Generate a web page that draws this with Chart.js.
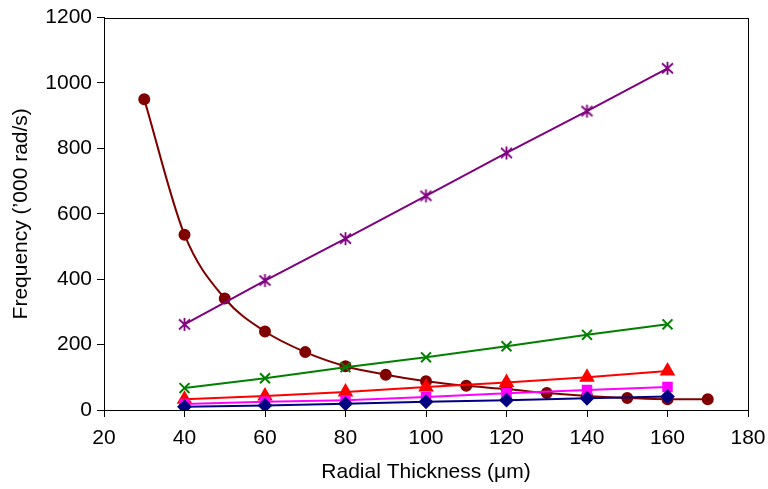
<!DOCTYPE html>
<html>
<head>
<meta charset="utf-8">
<script src="https://cdn.jsdelivr.net/npm/chart.js@4/dist/chart.umd.min.js"></script>
<style>
  html, body { margin: 0; padding: 0; background: #fff; }
  #wrap { width: 768px; height: 489px; position: relative; }
</style>
</head>
<body>
<div id="wrap"><canvas id="chart"></canvas></div>
<script>
// radial thickness (um) for the five straight series
const thickness = [40, 60, 80, 100, 120, 140, 160];
// radial thickness for the curved series
const thicknessCurve = [30, 40, 50, 60, 70, 80, 90, 100, 110, 120, 130, 140, 150, 160, 170];

const diamondSeries = [10, 14, 19, 25, 30, 36, 41];
const squareSeries = [18, 25, 30, 40, 51, 61, 70];
const triangleSeries = [33, 43, 55, 70, 84, 100, 119];
const crossSeries = [67, 97, 131, 161, 195, 230, 262];
const starSeries = [262, 396, 524, 655, 786, 914, 1045];
const circleSeries = [950, 536, 341, 240, 177, 134, 108, 88, 74, 64, 52, 43, 37, 33, 33];

const xTicks = [20, 180, 20];   // min, max, step
const yTicks = [0, 1200, 200];

function pairs(xs, ys) {
  return xs.map((x, i) => ({ x: x, y: ys[i] }));
}

// asterisk marker: an X with a vertical bar through it
function asterisk(color) {
  const c = document.createElement("canvas");
  c.width = 15; c.height = 15;
  const g = c.getContext("2d");
  g.strokeStyle = color;
  g.lineWidth = 1.8;
  g.beginPath();
  g.moveTo(2, 2.5); g.lineTo(13, 12.5);
  g.moveTo(13, 2.5); g.lineTo(2, 12.5);
  g.moveTo(7.5, 1); g.lineTo(7.5, 14);
  g.stroke();
  return c;
}

// frame around the plot area
const frame = {
  id: "frame",
  afterDraw(chart) {
    const a = chart.chartArea;
    const ctx = chart.ctx;
    ctx.save();
    ctx.strokeStyle = "#000";
    ctx.lineWidth = 1;
    ctx.strokeRect(Math.round(a.left) + 0.5, Math.round(a.top) + 0.5,
      Math.round(a.right - a.left), Math.round(a.bottom - a.top));
    ctx.restore();
  }
};

const font = { family: "'Liberation Sans', Arial, sans-serif", size: 21 };

new Chart(document.getElementById("chart"), {
  type: "line",
  data: {
    datasets: [
      {
        data: pairs(thickness, diamondSeries),
        borderColor: "#000080", backgroundColor: "#000080",
        pointStyle: "rectRot", pointRadius: 6, borderWidth: 2, tension: 0
      },
      {
        data: pairs(thickness, squareSeries),
        borderColor: "#ff00ff", backgroundColor: "#ff00ff",
        pointStyle: "rect", pointRadius: 6, borderWidth: 2, tension: 0
      },
      {
        data: pairs(thickness, triangleSeries),
        borderColor: "#ff0000", backgroundColor: "#ff0000",
        pointStyle: "triangle", pointRadius: 7, borderWidth: 2, tension: 0
      },
      {
        data: pairs(thickness, crossSeries),
        borderColor: "#008000", backgroundColor: "#008000",
        pointStyle: "crossRot", pointRadius: 7, pointBorderWidth: 2, borderWidth: 2, tension: 0
      },
      {
        data: pairs(thickness, starSeries),
        borderColor: "#800080", backgroundColor: "#800080",
        pointStyle: asterisk("#800080"), borderWidth: 2, tension: 0
      },
      {
        data: pairs(thicknessCurve, circleSeries),
        borderColor: "#800000", backgroundColor: "#800000",
        pointStyle: "circle", pointRadius: 5, borderWidth: 2,
        cubicInterpolationMode: "monotone"
      }
    ]
  },
  options: {
    responsive: true,
    maintainAspectRatio: false,
    animation: false,
    layout: { padding: { top: 5, right: 0, left: 5, bottom: 0 } },
    plugins: {
      legend: { display: false },
      tooltip: { enabled: false }
    },
    scales: {
      x: {
        type: "linear",
        min: xTicks[0], max: xTicks[1],
        ticks: { stepSize: xTicks[2], color: "#000", font: font, padding: 9, maxRotation: 0 },
        grid: { drawOnChartArea: false, tickLength: 7, color: "#000" },
        border: { color: "#000", width: 1 },
        title: { display: true, text: "Radial Thickness (μm)", color: "#000", font: font, padding: { top: 2 } },
        afterFit(scale) { scale.height = 79; scale.paddingRight = 20; }
      },
      y: {
        min: yTicks[0], max: yTicks[1],
        ticks: { stepSize: yTicks[2], color: "#000", font: font, padding: 5,
          callback: (v) => String(v) },
        grid: { drawOnChartArea: false, tickLength: 7, color: "#000" },
        border: { color: "#000", width: 1 },
        title: { display: true, text: "Frequency (’000 rad/s)", color: "#000", font: font, padding: { bottom: 8 } },
        afterFit(scale) { scale.width = 99; }
      }
    }
  },
  plugins: [frame]
});
</script>
</body>
</html>
